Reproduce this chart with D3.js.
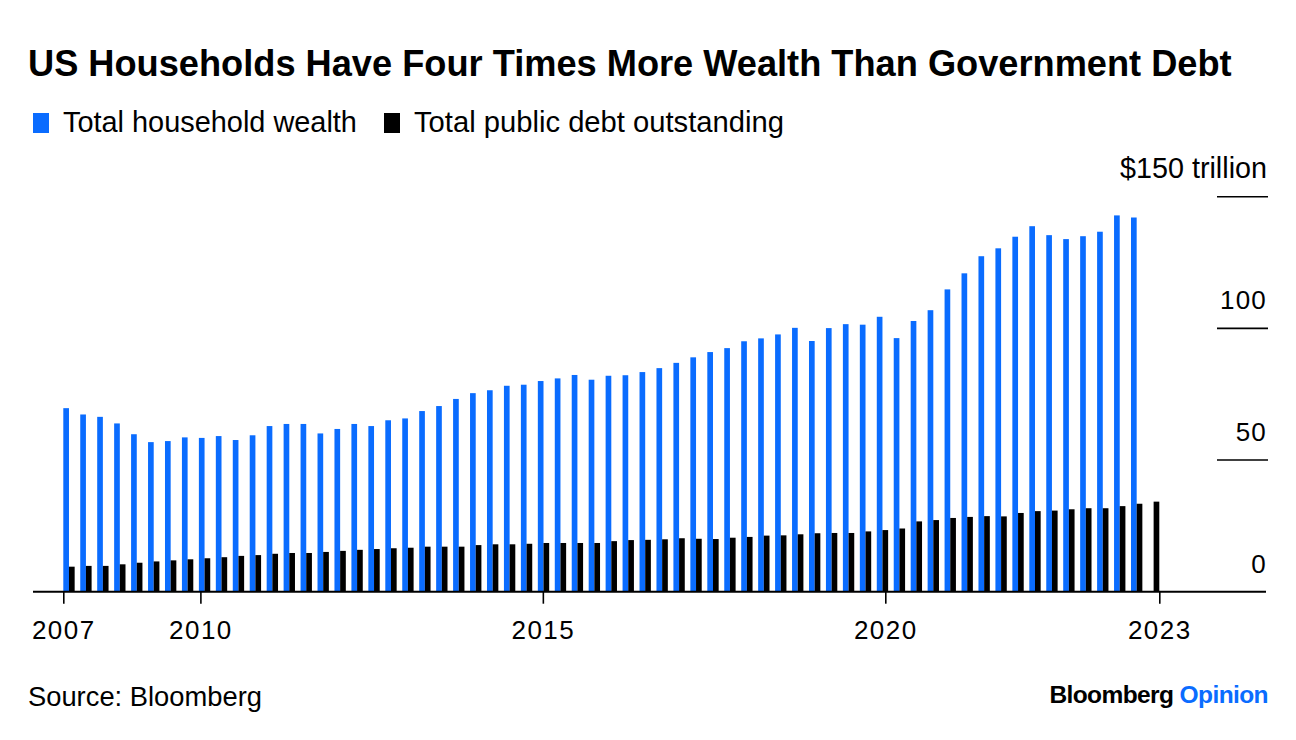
<!DOCTYPE html>
<html>
<head>
<meta charset="utf-8">
<script src="https://cdn.jsdelivr.net/npm/d3@7"></script>
<style>
  html, body { margin: 0; padding: 0; background: #fff; }
  text { font-family: "Liberation Sans", Arial, sans-serif; fill: #000; }
</style>
</head>
<body>
<script>
// ---------------- DATA ----------------
const quarters = [
  "2007Q4",
  "2008Q1","2008Q2","2008Q3","2008Q4",
  "2009Q1","2009Q2","2009Q3","2009Q4",
  "2010Q1","2010Q2","2010Q3","2010Q4",
  "2011Q1","2011Q2","2011Q3","2011Q4",
  "2012Q1","2012Q2","2012Q3","2012Q4",
  "2013Q1","2013Q2","2013Q3","2013Q4",
  "2014Q1","2014Q2","2014Q3","2014Q4",
  "2015Q1","2015Q2","2015Q3","2015Q4",
  "2016Q1","2016Q2","2016Q3","2016Q4",
  "2017Q1","2017Q2","2017Q3","2017Q4",
  "2018Q1","2018Q2","2018Q3","2018Q4",
  "2019Q1","2019Q2","2019Q3","2019Q4",
  "2020Q1","2020Q2","2020Q3","2020Q4",
  "2021Q1","2021Q2","2021Q3","2021Q4",
  "2022Q1","2022Q2","2022Q3","2022Q4",
  "2023Q1","2023Q2","2023Q3","2023Q4"
];

// Total household wealth, $ trillion (no value for the last quarter)
const householdWealth = [
  69.7,
  67.3, 66.4, 63.9, 59.8,
  56.8, 57.2, 58.6, 58.4,
  59.1, 57.6, 59.4, 62.9,
  63.7, 63.7, 60.1, 61.8,
  63.7, 62.9, 65.1, 65.8,
  68.6, 70.5, 73.2, 75.4,
  76.5, 78.2, 78.6, 80.0,
  81.0, 82.3, 80.5, 82.0,
  82.2, 83.4, 84.9, 86.9,
  89.0, 91.0, 92.5, 95.1,
  96.2, 97.7, 100.2, 95.2,
  100.1, 101.6, 101.4, 104.4,
  96.3, 102.8, 106.9, 114.8,
  120.9, 127.4, 130.4, 134.8,
  138.8, 135.4, 133.9, 135.0,
  136.7, 142.9, 142.1, null
];

// Total public debt outstanding, $ trillion
const publicDebt = [
  9.5,
  9.8, 9.8, 10.4, 11.0,
  11.5, 11.9, 12.3, 12.7,
  13.1, 13.6, 13.9, 14.4,
  14.7, 14.7, 15.1, 15.5,
  15.9, 16.2, 16.5, 16.7,
  17.1, 17.1, 17.1, 17.7,
  18.0, 18.0, 18.2, 18.5,
  18.5, 18.5, 18.5, 19.2,
  19.6, 19.7, 19.9, 20.3,
  20.1, 20.0, 20.5, 20.8,
  21.3, 21.4, 21.8, 22.2,
  22.3, 22.3, 22.9, 23.4,
  24.0, 26.7, 27.2, 28.0,
  28.4, 28.7, 28.6, 29.9,
  30.6, 30.8, 31.3, 31.7,
  31.7, 32.5, 33.4, 34.2
];

const seriesNames = ["Total household wealth", "Total public debt outstanding"];
const seriesColors = ["#0a6cff", "#000000"];

const xTickDates = ["2008-01-01", "2010-01-01", "2015-01-01", "2020-01-01", "2024-01-01"];
const xTickLabels = ["2007", "2010", "2015", "2020", "2023"];
const yTickValues = [0, 50, 100, 150];
const yTickLabels = ["0", "50", "100", "$150 trillion"];

const titleText = "US Households Have Four Times More Wealth Than Government Debt";
const sourceText = "Source: Bloomberg";

// ---------------- CHART ----------------
const W = 1296, H = 740;
const svg = d3.select("body").append("svg").attr("width", W).attr("height", H);

function fitWidth(sel, target) {
  const w = sel.node().getComputedTextLength();
  const fs = parseFloat(sel.attr("font-size"));
  sel.attr("font-size", (fs * target / w).toFixed(2));
}

// Title
const title = svg.append("text")
  .attr("x", 28).attr("y", 76)
  .attr("font-size", 31).attr("font-weight", 700)
  .text(titleText);
fitWidth(title, 1204);

// Legend
const legendItems = [
  { name: seriesNames[0], color: seriesColors[0], sx: 33, tx: 63, tw: 294 },
  { name: seriesNames[1], color: seriesColors[1], sx: 384, tx: 414, tw: 370 }
];
legendItems.forEach(d => {
  svg.append("rect").attr("x", d.sx).attr("y", 113).attr("width", 16).attr("height", 20).attr("fill", d.color);
  const t = svg.append("text").attr("x", d.tx).attr("y", 132).attr("font-size", 26).text(d.name);
  fitWidth(t, d.tw);
});

// Scales
const x = d3.scaleUtc()
  .domain([new Date("2008-01-01"), new Date("2024-01-01")])
  .range([63.3, 1159.3]);

const band = d3.scaleBand()
  .domain(quarters)
  .range(x.range())
  .paddingInner(0.33)
  .paddingOuter(0);

const y = d3.scaleLinear().domain([0, 150]).range([591.7, 196.7]);

const bw = band.bandwidth() / 2;

// Bars
const wealthData = quarters.map((q, i) => ({ q, v: householdWealth[i] })).filter(d => d.v != null);
const debtData = quarters.map((q, i) => ({ q, v: publicDebt[i] }));

svg.append("g").selectAll("rect").data(wealthData).join("rect")
  .attr("x", d => band(d.q))
  .attr("width", bw)
  .attr("y", d => y(d.v))
  .attr("height", d => y(0) - y(d.v))
  .attr("fill", seriesColors[0]);

svg.append("g").selectAll("rect").data(debtData).join("rect")
  .attr("x", d => band(d.q) + bw)
  .attr("width", bw)
  .attr("y", d => y(d.v))
  .attr("height", d => y(0) - y(d.v))
  .attr("fill", seriesColors[1]);

// Y axis: short gridlines at right with labels above
const yg = svg.append("g");
yTickValues.forEach((v, i) => {
  if (v !== 0) {
    yg.append("line")
      .attr("x1", 1217).attr("x2", 1268)
      .attr("y1", y(v)).attr("y2", y(v))
      .attr("stroke", "#000").attr("stroke-width", 1.6);
  }
  const t = yg.append("text")
    .attr("x", 1267).attr("y", y(v) - 19)
    .attr("text-anchor", "end")
    .attr("font-size", 26)
    .attr("letter-spacing", v === 150 ? 0 : 1.2)
    .text(yTickLabels[i]);
  if (v === 150) fitWidth(t, 147);
});

// X axis
const xAxis = d3.axisBottom(x)
  .tickValues(xTickDates.map(d => new Date(d)))
  .tickFormat((d, i) => xTickLabels[i])
  .tickSize(12)
  .tickPadding(17);

const xg = svg.append("g").attr("transform", `translate(0,${y(0)})`).call(xAxis);
xg.select(".domain").remove();
xg.selectAll(".tick line").attr("stroke", "#000").attr("stroke-width", 1.6);
xg.selectAll(".tick text")
  .attr("font-family", "Liberation Sans, Arial, sans-serif")
  .attr("font-size", 26)
  .attr("letter-spacing", 1.5)
  .attr("fill", "#000");

// Baseline
svg.append("line")
  .attr("x1", 33).attr("x2", 1266)
  .attr("y1", y(0)).attr("y2", y(0))
  .attr("stroke", "#000").attr("stroke-width", 2);

// Footer
const src = svg.append("text").attr("x", 28).attr("y", 706).attr("font-size", 24).text(sourceText);
fitWidth(src, 234);

const brand = svg.append("text")
  .attr("x", 1268).attr("y", 703)
  .attr("text-anchor", "end")
  .attr("font-size", 23).attr("font-weight", 700)
  .attr("letter-spacing", -0.6);
brand.append("tspan").text("Bloomberg ");
brand.append("tspan").attr("fill", seriesColors[0]).style("fill", seriesColors[0]).text("Opinion");
fitWidth(brand, 218);
</script>
</body>
</html>
